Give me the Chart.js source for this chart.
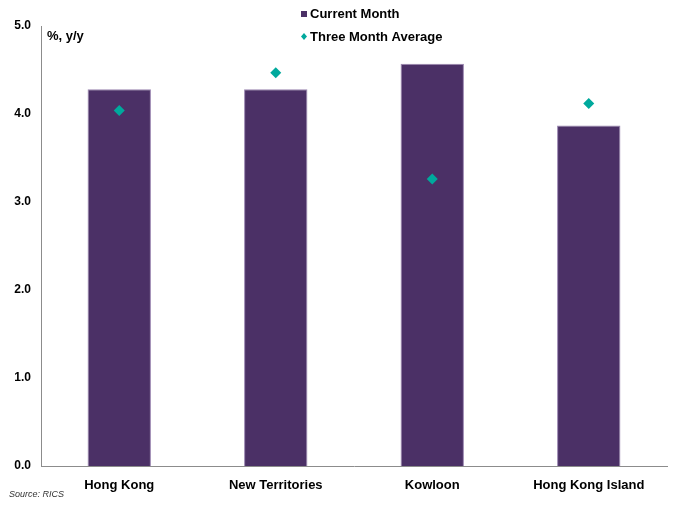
<!DOCTYPE html>
<html><head><meta charset="utf-8">
<script src="https://cdn.jsdelivr.net/npm/chart.js@4/dist/chart.umd.min.js"></script>
<style>html,body{margin:0;padding:0;background:#fff;}#wrap{width:675px;height:507px;position:relative;}</style>
</head><body><div id="wrap"><canvas id="c" width="675" height="507"></canvas></div>
<script>
const categories = ["Hong Kong", "New Territories", "Kowloon", "Hong Kong Island"];
const currentMonth = [4.28, 4.28, 4.57, 3.87];
const threeMonthAverage = [4.04, 4.47, 3.26, 4.12];
const yTicks = [0, 1, 2, 3, 4, 5];
const seriesNames = ["Current Month", "Three Month Average"];
const unitLabel = "%, y/y";
const sourceText = "Source: RICS";

const FONT = "'Liberation Sans', Arial, sans-serif";
const BAR = '#4b3066';
const TEAL = '#00a99d';

const overlay = {
  id: 'overlay',
  afterDraw(chart) {
    const ctx = chart.ctx;
    ctx.save();
    ctx.fillStyle = '#000';
    ctx.font = "bold 13px " + FONT;
    ctx.textBaseline = 'middle';
    ctx.textAlign = 'left';
    // unit label
    ctx.fillText(unitLabel, 47, 36);
    // legend
    ctx.fillStyle = BAR;
    ctx.fillRect(301, 11, 6, 6);
    ctx.fillStyle = '#000';
    ctx.fillText(seriesNames[0], 310, 14);
    ctx.fillStyle = TEAL;
    ctx.beginPath();
    ctx.moveTo(304, 33); ctx.lineTo(307, 36.5); ctx.lineTo(304, 40); ctx.lineTo(301, 36.5); ctx.closePath();
    ctx.fill();
    ctx.fillStyle = '#000';
    ctx.fillText(seriesNames[1], 310, 37);
    // source
    ctx.font = "italic 9px " + FONT;
    ctx.fillStyle = '#333';
    ctx.fillText(sourceText, 9, 494);
    ctx.restore();
  }
};

new Chart(document.getElementById('c'), {
  data: {
    labels: categories,
    datasets: [
      { type: 'line', label: seriesNames[1], data: threeMonthAverage, showLine: false,
        pointStyle: 'rectRot', pointRadius: 5.5, pointHoverRadius: 5.5,
        backgroundColor: TEAL, borderColor: TEAL, borderWidth: 0, order: 0 },
      { type: 'bar', label: seriesNames[0], data: currentMonth,
        backgroundColor: BAR, borderColor: '#9a86b0', borderWidth: 1,
        categoryPercentage: 1, barPercentage: 0.405, order: 1 }
    ]
  },
  options: {
    responsive: false,
    animation: false,
    events: [],
    layout: { padding: { top: 26, right: 8, left: 0, bottom: 0 } },
    plugins: { legend: { display: false }, tooltip: { enabled: false } },
    scales: {
      x: {
        grid: { display: false, drawTicks: false },
        border: { display: true, color: '#8c8c8c', width: 1 },
        ticks: { color: '#000', font: { family: FONT, size: 13, weight: 'bold' }, padding: 12, maxRotation: 0 },
        afterFit(s) { s.height = 41; }
      },
      y: {
        min: 0, max: 5,
        afterBuildTicks(s) { s.ticks = yTicks.map(v => ({ value: v })); },
        grid: { display: false, drawTicks: false },
        border: { display: true, color: '#8c8c8c', width: 1 },
        ticks: { color: '#000', font: { family: FONT, size: 12, weight: 'bold' }, padding: 10,
          callback: v => Number(v).toFixed(1) },
        afterFit(s) { s.width = 41; }
      }
    }
  },
  plugins: [overlay]
});
</script></body></html>
